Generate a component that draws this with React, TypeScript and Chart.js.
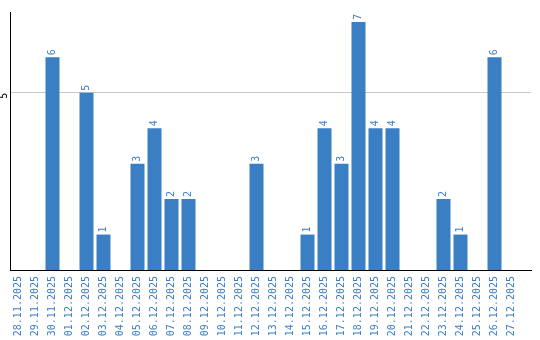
import React, { useEffect, useRef } from "react";
import { Chart, registerables } from "chart.js";

Chart.register(...registerables);

const categories = [
  "28.11.2025", "29.11.2025", "30.11.2025", "01.12.2025", "02.12.2025",
  "03.12.2025", "04.12.2025", "05.12.2025", "06.12.2025", "07.12.2025",
  "08.12.2025", "09.12.2025", "10.12.2025", "11.12.2025", "12.12.2025",
  "13.12.2025", "14.12.2025", "15.12.2025", "16.12.2025", "17.12.2025",
  "18.12.2025", "19.12.2025", "20.12.2025", "21.12.2025", "22.12.2025",
  "23.12.2025", "24.12.2025", "25.12.2025", "26.12.2025", "27.12.2025",
];
const values = [0, 0, 6, 0, 5, 1, 0, 3, 4, 2, 2, 0, 0, 0, 3, 0, 0, 1, 4, 3, 7, 4, 4, 0, 0, 2, 1, 0, 6, 0];
const yTickValues = [5];
const yMax = 7.28;
const xMax = 30.147;

const BLUE = "#3a7ec3";
const FONT = "DejaVu Sans Mono";

const valueLabels = {
  id: "valueLabels",
  afterDatasetsDraw(chart: any) {
    const ctx = chart.ctx;
    const meta = chart.getDatasetMeta(0);
    ctx.save();
    ctx.fillStyle = BLUE;
    ctx.font = `10px "${FONT}"`;
    ctx.textAlign = "left";
    ctx.textBaseline = "middle";
    meta.data.forEach((bar: any, i: number) => {
      const v = values[i];
      if (!v) return;
      ctx.save();
      ctx.translate(bar.x, bar.y - 2);
      ctx.rotate(-Math.PI / 2);
      ctx.fillText(String(v), 0, 0);
      ctx.restore();
    });
    ctx.restore();
  },
};

export default function App() {
  const ref = useRef<HTMLCanvasElement | null>(null);
  useEffect(() => {
    if (!ref.current) return;
    const chart = new Chart(ref.current, {
      type: "bar",
      data: {
        datasets: [
          {
            data: values.map((v, i) => ({ x: i, y: v })),
            backgroundColor: BLUE,
            borderWidth: 0,
            barPercentage: 0.8235,
            categoryPercentage: 1,
          },
        ],
      },
      options: {
        animation: false,
        responsive: false,
        maintainAspectRatio: false,
        layout: { padding: { top: 10, right: 9, left: 0, bottom: 0 } },
        plugins: { legend: { display: false }, tooltip: { enabled: false } },
        scales: {
          x: {
            type: "linear",
            min: -0.5,
            max: xMax,
            offset: false,
            grid: { display: false, drawTicks: false },
            border: { display: true, color: "#000", width: 1 },
            afterBuildTicks: (scale: any) => {
              scale.ticks = categories.map((_, i) => ({ value: i }));
            },
            afterFit: (scale: any) => {
              scale.height = 70;
            },
            ticks: {
              autoSkip: false,
              minRotation: 90,
              maxRotation: 90,
              padding: 6,
              color: BLUE,
              font: { family: FONT, size: 10 },
              callback: (v: any) => categories[v] ?? "",
            },
          },
          y: {
            min: 0,
            max: yMax,
            grid: { display: true, color: "#c8c8c8", drawTicks: false },
            border: { display: true, color: "#000", width: 1 },
            afterBuildTicks: (scale: any) => {
              scale.ticks = yTickValues.map((v) => ({ value: v }));
            },
            afterFit: (scale: any) => {
              scale.width = 10;
            },
            ticks: {
              minRotation: 90,
              maxRotation: 90,
              padding: 6,
              color: "#000",
              font: { family: FONT, size: 10 },
            },
          },
        },
      },
      plugins: [valueLabels],
    });
    return () => chart.destroy();
  }, []);
  return (
    <div style={{ position: "fixed", left: 0, top: 0, width: 540, height: 340, background: "#fff" }}>
      <canvas ref={ref} width={540} height={340} style={{ width: 540, height: 340 }} />
    </div>
  );
}
